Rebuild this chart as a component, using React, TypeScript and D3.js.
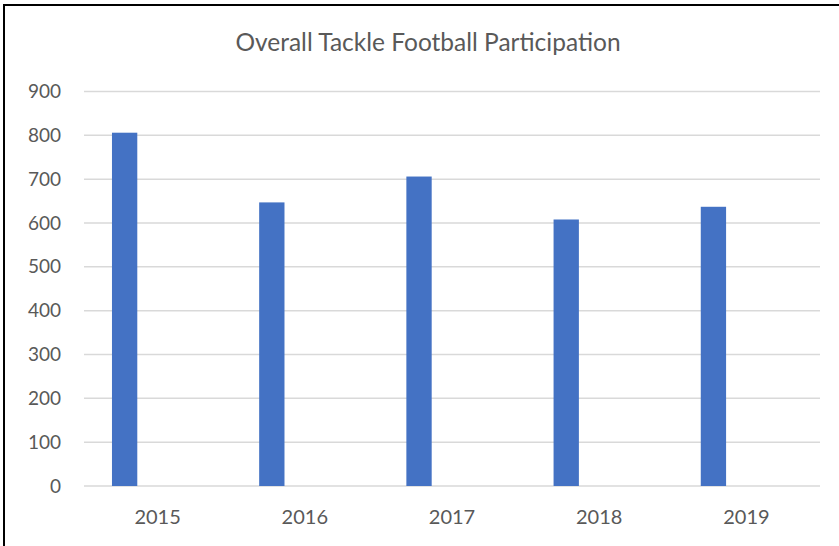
import React from "react";
import * as d3 from "d3";

const years = ["2015", "2016", "2017", "2018", "2019"];
const participation = [806, 647, 706, 608, 637];
const yTicks = [0, 100, 200, 300, 400, 500, 600, 700, 800, 900];
const title = "Overall Tackle Football Participation";

export default function App() {
  const W = 839, H = 546;
  const left = 84, right = 820, top = 91.5, bottom = 486;
  const x = d3.scaleBand<string>().domain(years).range([left, right]).padding(0);
  const y = d3.scaleLinear().domain([0, 900]).range([bottom, top]);
  const bw = x.bandwidth();
  const font = "Lato, 'Open Sans', sans-serif";
  return (
    <div style={{ position: "fixed", left: 0, top: 0 }}>
      <svg width={W} height={H} style={{ display: "block", background: "#fff" }}>
        <rect x={4} y={5} width={W + 10} height={H + 10} fill="#fff" stroke="#000" strokeWidth={2} />
        <text x={428} y={51} textAnchor="middle" fontFamily={font} fontSize={24.5} fill="#595959">
          {title}
        </text>
        {yTicks.map((t) => (
          <g key={t}>
            <line x1={left} x2={right} y1={y(t)} y2={y(t)} stroke="#d9d9d9" strokeWidth={1.5} />
            <text x={61} y={y(t)} dy="0.35em" textAnchor="end" fontFamily={font} fontSize={19} fill="#595959">
              {t}
            </text>
          </g>
        ))}
        {years.map((yr, i) => (
          <rect
            key={yr}
            x={(x(yr) as number) + bw * 0.19}
            y={y(participation[i])}
            width={bw * 0.172}
            height={y(0) - y(participation[i])}
            fill="#4472c4"
          />
        ))}
        {years.map((yr) => (
          <text
            key={yr}
            x={(x(yr) as number) + bw / 2}
            y={517}
            dy="0.35em"
            textAnchor="middle"
            fontFamily={font}
            fontSize={20}
            fill="#595959"
          >
            {yr}
          </text>
        ))}
      </svg>
    </div>
  );
}
